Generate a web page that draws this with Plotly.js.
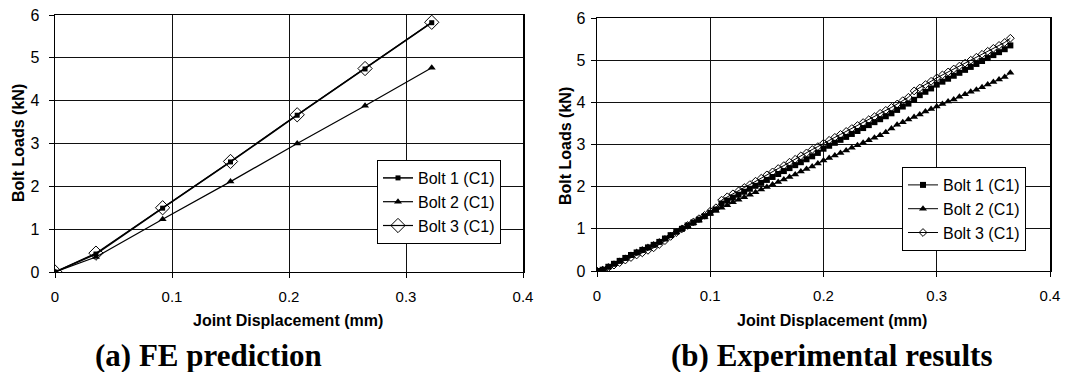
<!DOCTYPE html>
<html>
<head>
<meta charset="utf-8">
<script src="https://cdn.plot.ly/plotly-3.0.1.min.js"></script>
<style>html,body{margin:0;padding:0;background:#fff;}#chart{width:1090px;height:372px;}</style>
</head>
<body>
<div id="chart"></div>
<script>
// ---- (a) FE prediction ----
const feX = [0, 0.035, 0.092, 0.150, 0.207, 0.265, 0.322];
const feBolt1 = [0, 0.42, 1.49, 2.57, 3.66, 4.74, 5.82];
const feBolt2 = [0, 0.35, 1.23, 2.11, 3.0, 3.88, 4.77];
const feBolt3 = [0, 0.44, 1.5, 2.58, 3.67, 4.75, 5.83];

// ---- (b) Experimental results ----
const expX = [0,0.005,0.01,0.015,0.02,0.025,0.03,0.035,0.04,0.045,0.05,0.055,0.06,0.065,0.07,0.075,0.08,0.085,0.09,0.095,
  0.1,0.105,0.11,0.115,0.12,0.125,0.13,0.135,0.14,0.145,0.15,0.155,0.16,0.165,0.17,0.175,0.18,0.185,0.19,0.195,
  0.2,0.205,0.21,0.215,0.22,0.225,0.23,0.235,0.24,0.245,0.25,0.255,0.26,0.265,0.27,0.275,0.28,0.285,0.29,0.295,
  0.3,0.305,0.31,0.315,0.32,0.325,0.33,0.335,0.34,0.345,0.35,0.355,0.36,0.365];
const expBolt1 = [0,0.03,0.1,0.17,0.24,0.31,0.38,0.44,0.5,0.56,0.62,0.69,0.77,0.85,0.93,1.0,1.08,1.15,1.22,1.3,
  1.38,1.46,1.6,1.67,1.74,1.81,1.88,1.95,2.02,2.09,2.16,2.23,2.3,2.37,2.44,2.51,2.58,2.65,2.72,2.8,
  2.9,2.97,3.04,3.11,3.18,3.25,3.32,3.39,3.46,3.53,3.6,3.67,3.74,3.82,3.9,3.97,4.06,4.17,4.25,4.33,
  4.42,4.49,4.56,4.63,4.7,4.77,4.84,4.91,4.98,5.05,5.12,5.19,5.26,5.35];
const expBolt2 = [0,0.04,0.1,0.17,0.24,0.31,0.38,0.45,0.51,0.57,0.63,0.7,0.77,0.84,0.92,0.99,1.06,1.13,1.2,1.28,
  1.36,1.43,1.5,1.56,1.63,1.69,1.75,1.81,1.87,1.93,1.99,2.05,2.11,2.17,2.23,2.29,2.36,2.42,2.48,2.55,
  2.62,2.68,2.74,2.8,2.86,2.92,2.98,3.04,3.1,3.16,3.22,3.29,3.38,3.47,3.53,3.59,3.65,3.71,3.78,3.84,
  3.9,3.96,4.02,4.07,4.13,4.19,4.25,4.3,4.36,4.42,4.48,4.54,4.6,4.7];
const expBolt3 = [0,0.02,0.08,0.14,0.2,0.26,0.32,0.38,0.43,0.49,0.55,0.63,0.72,0.82,0.91,1.0,1.08,1.16,1.24,1.32,
  1.42,1.5,1.68,1.76,1.83,1.9,1.98,2.05,2.13,2.2,2.28,2.35,2.43,2.5,2.58,2.65,2.73,2.8,2.88,2.95,
  3.03,3.1,3.17,3.24,3.31,3.38,3.45,3.52,3.59,3.66,3.74,3.81,3.88,3.96,4.04,4.12,4.27,4.34,4.42,4.5,
  4.58,4.65,4.72,4.79,4.86,4.93,5.0,5.07,5.14,5.21,5.28,5.35,5.42,5.52];

const seriesNames = ['Bolt 1 (C1)', 'Bolt 2 (C1)', 'Bolt 3 (C1)'];
const xTicks = [0, 0.1, 0.2, 0.3, 0.4];
const xTickText = ['0', '0.1', '0.2', '0.3', '0.4'];
const yTicks = [0, 1, 2, 3, 4, 5, 6];
const axisTitleX = 'Joint Displacement (mm)';
const axisTitleY = 'Bolt Loads (kN)';
const captions = ['(a) FE prediction', '(b) Experimental results'];

const W = 1090, H = 372;
const px = v => v / W;
const py = v => (H - v) / H;

const traces = [
  {x: feX, y: feBolt1, name: seriesNames[0], xaxis: 'x', yaxis: 'y', legend: 'legend',
   mode: 'lines+markers', line: {color: '#000', width: 1.5}, marker: {symbol: 'square', size: 5, color: '#000'}},
  {x: feX, y: feBolt2, name: seriesNames[1], xaxis: 'x', yaxis: 'y', legend: 'legend',
   mode: 'lines+markers', line: {color: '#000', width: 1.2}, marker: {symbol: 'triangle-up', size: 7, color: '#000'}},
  {x: feX, y: feBolt3, name: seriesNames[2], xaxis: 'x', yaxis: 'y', legend: 'legend',
   mode: 'lines+markers', line: {color: '#000', width: 1.2}, marker: {symbol: 'diamond-open', size: 11, color: '#000', line: {width: 1}}},
  {x: expX, y: expBolt1, name: seriesNames[0], xaxis: 'x2', yaxis: 'y2', legend: 'legend2',
   mode: 'lines+markers', line: {color: '#000', width: 1}, marker: {symbol: 'square', size: 6, color: '#000'}},
  {x: expX, y: expBolt2, name: seriesNames[1], xaxis: 'x2', yaxis: 'y2', legend: 'legend2',
   mode: 'lines+markers', line: {color: '#000', width: 1}, marker: {symbol: 'triangle-up', size: 7, color: '#000'}},
  {x: expX, y: expBolt3, name: seriesNames[2], xaxis: 'x2', yaxis: 'y2', legend: 'legend2',
   mode: 'lines+markers', line: {color: '#000', width: 1}, marker: {symbol: 'diamond-open', size: 6, color: '#000', line: {width: 1}}}
];

const sans = 'Liberation Sans, Arial, sans-serif';
const tickFont = {family: sans, size: 15, color: '#000'};
function xAx(d0, d1, anchor) {
  return {domain: [px(d0), px(d1)], anchor: anchor, range: [0, 0.4], tickvals: xTicks, ticktext: xTickText,
    showgrid: true, gridcolor: '#111', gridwidth: 1, zeroline: false,
    showline: true, linecolor: '#000', linewidth: 1, mirror: true,
    ticks: 'outside', ticklen: 5, tickcolor: '#000', tickfont: tickFont, ticklabelstandoff: 6, fixedrange: true};
}
function yAx(d0, d1, anchor, standoff) {
  return {domain: [py(d1), py(d0)], anchor: anchor, range: [0, 6], tickvals: yTicks,
    showgrid: true, gridcolor: '#111', gridwidth: 1, zeroline: true, zerolinecolor: '#000', zerolinewidth: 2,
    showline: true, linecolor: '#000', linewidth: 1.5, mirror: true,
    ticks: 'outside', ticklen: 5, tickcolor: '#000', tickfont: {family: sans, size: 16, color: '#000'},
    ticklabelstandoff: standoff, fixedrange: true};
}

const titleFont = {family: sans, size: 16, color: '#000', weight: 'bold'};
const capFont = {family: 'Liberation Serif, Times New Roman, serif', size: 31, color: '#000', weight: 'bold'};
const legFont = {family: sans, size: 16, color: '#000'};

function ann(text, x, y, font, angle) {
  return {text: text, x: px(x), y: py(y), xref: 'paper', yref: 'paper', xanchor: 'center', yanchor: 'middle',
    showarrow: false, font: font, textangle: angle || 0};
}

const layout = {
  width: W, height: H,
  margin: {l: 0, r: 0, t: 0, b: 0},
  paper_bgcolor: '#fff', plot_bgcolor: '#fff',
  showlegend: true,
  hovermode: false,
  xaxis: xAx(55, 523, 'y'),
  yaxis: yAx(15, 272, 'x', 6),
  xaxis2: xAx(597, 1050, 'y2'),
  yaxis2: yAx(18, 271, 'x2', 2),
  legend: {x: px(377), y: py(160), xanchor: 'left', yanchor: 'top', bgcolor: '#fff', bordercolor: '#000', borderwidth: 1,
    font: legFont, itemwidth: 30, tracegroupgap: 0},
  legend2: {x: px(902), y: py(167), xanchor: 'left', yanchor: 'top', bgcolor: '#fff', bordercolor: '#000', borderwidth: 1,
    font: legFont, itemwidth: 30, tracegroupgap: 0},
  annotations: [
    ann(axisTitleX, 288, 320, titleFont),
    ann(axisTitleX, 832, 320, titleFont),
    ann(axisTitleY, 18, 143, titleFont, -90),
    ann(axisTitleY, 565, 146, titleFont, -90),
    ann(captions[0], 208, 355, capFont),
    ann(captions[1], 831, 355, capFont)
  ]
};

Plotly.newPlot('chart', traces, layout, {staticPlot: true, displayModeBar: false});
</script>
</body>
</html>
